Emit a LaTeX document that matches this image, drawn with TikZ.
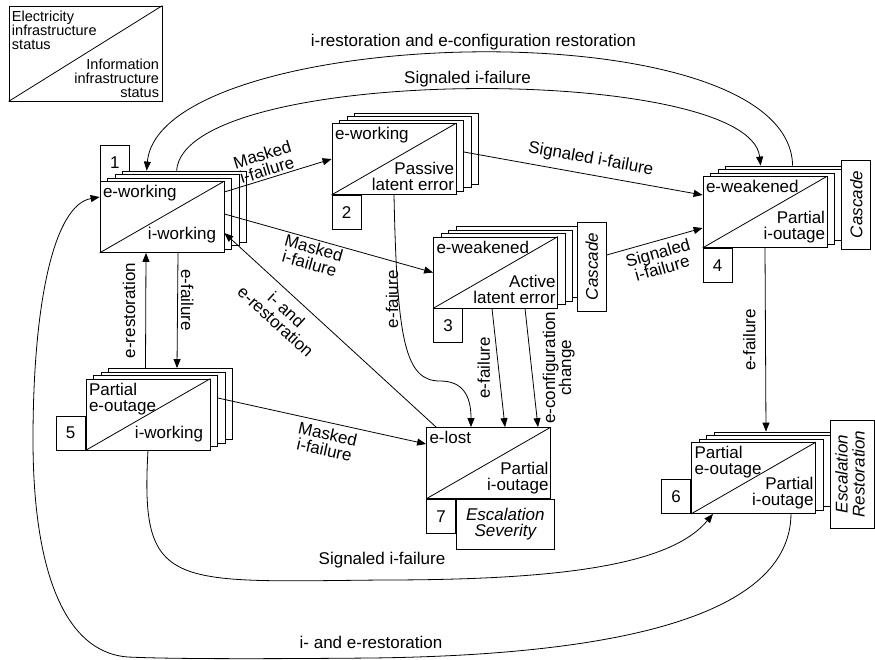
\documentclass[tikz,border=0pt]{standalone}
\usepackage{fontspec}
\setmainfont{Liberation Sans}
\usetikzlibrary{arrows.meta}

\newcommand{\boxfont}{\fontsize{17}{16}\selectfont}
\newcommand{\keyfont}{\fontsize{14.5}{14}\selectfont}

% one state: three copies behind, the front box and its diagonal
\newcommand{\statebox}[3]{%
  \foreach \j in {3,2,1}
    \node[state] (#1-\j) at ({#2+7.5*\j},{#3-3.5*\j}) {};
  \node[state] (#1) at (#2,#3) {};
  \draw (#1.south west) -- (#1.north east);
}

\begin{document}
\begin{tikzpicture}[x=1pt, y=-1pt, line width=0.8pt,
  state/.style={draw, fill=white, minimum width=124pt, minimum height=71pt, inner sep=0pt},
  numbox/.style={draw, fill=white, minimum width=29pt, minimum height=34pt, inner sep=0pt, font=\boxfont},
  sidebox/.style={draw, fill=white, inner sep=0pt, font=\boxfont\itshape, align=center},
  toptxt/.style={anchor=north west, align=left, inner xsep=3pt, inner ysep=4pt, font=\boxfont},
  bottxt/.style={anchor=south east, align=right, inner xsep=2pt, inner ysep=4pt, font=\boxfont},
  lbl/.style={font=\boxfont, inner sep=2pt, align=center},
  arr/.style={-{Triangle[length=9pt,width=7pt]}}]

\useasboundingbox (0,0) rectangle (875,659);

% key
\node[draw, minimum width=153pt, minimum height=95pt, inner sep=0pt] (key) at (85.5,53.5) {};
\draw (key.south west) -- (key.north east);
\node[anchor=north west, align=left, font=\keyfont, inner xsep=3pt, inner ysep=5pt] (keye) at (key.north west) {Electricity\\infrastructure\\status};
\node[anchor=south east, align=right, font=\keyfont, inner sep=3pt] (keyi) at (key.south east) {Information\\infrastructure\\status};

% states
\node[numbox, minimum height=36pt, anchor=south west] (n1) at (100,181.5) {1};
\statebox{s1}{162}{217}
\statebox{s2}{394}{159}
\statebox{s3}{495.5}{272.5}
\statebox{s4}{765}{212}
\statebox{s5}{148}{414.5}
\statebox{s6}{753.5}{478}
\node[state] (s7) at (488.5,463) {};
\draw (s7.south west) -- (s7.north east);

\node[numbox, anchor=north west] (n2) at (s2.south west) {2};
\node[numbox, anchor=north west] (n3) at (s3.south west) {3};
\node[numbox, anchor=north west] (n4) at (s4.south west) {4};
\node[numbox, anchor=south east] (n5) at (s5.south west) {5};
\node[numbox, anchor=south east] (n6) at (s6.south west) {6};
\node[numbox, anchor=north west] (n7) at (s7.south west) {7};

\node[sidebox, minimum width=29pt, minimum height=89pt, anchor=west] (c3) at ([xshift=19pt,yshift=6pt]s3.east) {\rotatebox{90}{Cascade}};
\node[sidebox, minimum width=29pt, minimum height=89pt, anchor=west] (c4) at ([xshift=14pt,yshift=7.5pt]s4.east) {\rotatebox{90}{Cascade}};
\node[sidebox, minimum width=44pt, minimum height=108pt, anchor=west] (r6) at ([xshift=14pt,yshift=4pt]s6.east) {\rotatebox{90}{\begin{tabular}{@{}c@{}}Escalation\\Restoration\end{tabular}}};
\node[sidebox, minimum width=98pt, minimum height=50pt, anchor=north west] (v7) at (n7.north east) {Escalation\\Severity};

% texts in the states
\node[toptxt] (s1e) at (s1.north west) {e-working};
\node[bottxt, inner xsep=8pt, inner ysep=9pt] (s1i) at (s1.south east) {i-working};
\node[toptxt] (s2e) at (s2.north west) {e-working};
\node[bottxt] (s2i) at (s2.south east) {Passive\\latent error};
\node[toptxt] (s3e) at (s3.north west) {e-weakened};
\node[bottxt] (s3i) at (s3.south east) {Active\\latent error};
\node[toptxt] (s4e) at (s4.north west) {e-weakened};
\node[bottxt] (s4i) at (s4.south east) {Partial\\i-outage};
\node[toptxt] (s5e) at (s5.north west) {Partial\\e-outage};
\node[bottxt, inner xsep=7pt, inner ysep=8pt] (s5i) at (s5.south east) {i-working};
\node[toptxt] (s6e) at (s6.north west) {Partial\\e-outage};
\node[bottxt] (s6i) at (s6.south east) {Partial\\i-outage};
\node[toptxt] (s7e) at (s7.north west) {e-lost};
\node[bottxt] (s7i) at (s7.south east) {Partial\\i-outage};

% transitions over the top
\draw[arr] ([xshift=67.5pt]s4-3.north west) .. controls +(-3,-161) and +(13,-146) .. ([xshift=24.5pt]s1-3.north west)
  node[lbl, pos=.5, above=1pt] {i-restoration and e-configuration restoration};
\draw[arr] ([xshift=54.5pt]s1-3.north west) .. controls +(8,-107) and +(-11,-102) .. ([xshift=35.5pt]s4-3.north west)
  node[lbl, pos=.5, above] {Signaled i-failure};

% transitions to the right
\draw[arr] ([yshift=25pt]s1.east) -- (s2.west) node[lbl, pos=.42, sloped, above] {Masked\\i-failure};
\draw[arr] ([yshift=3pt]s1.east) -- (s3.west) node[lbl, pos=.44, sloped, below] {Masked\\i-failure};
\draw[arr] ([yshift=3.5pt]s2-1.east) -- ([yshift=17pt]s4.west) node[lbl, pos=.52, sloped, above=5pt] {Signaled i-failure};
\draw[arr] ([yshift=11.5pt]c3.east) -- ([yshift=-16pt]s4.west) node[lbl, midway, sloped, below=3pt] {Signaled\\i-failure};
\draw[arr] ([yshift=13pt]s5-1.east) -- ([yshift=19pt]s7.west) node[lbl, pos=.54, sloped, below=3pt] {Masked\\i-failure};

% transitions up and down
\draw[arr] ([xshift=-25pt]s5-3.north) -- ([xshift=-16pt]s1.south) node[lbl, midway, rotate=90, anchor=south, inner ysep=10pt] {e-restoration};
\draw[arr] ([xshift=16pt]s1.south) -- ([xshift=6.5pt]s5-3.north) node[lbl, pos=.41, rotate=-90, anchor=south, inner ysep=3pt] {e-failure};
\draw[arr] ([xshift=10pt]s7.north west) -- ([yshift=-16pt]s1.east) node[lbl, pos=.66, sloped, below=6pt] {i- and\\e-restoration};
\draw[arr] (s2.south) .. controls +(3,145.5) and +(-35,0) .. (440,381) node[lbl, pos=.3, rotate=90, anchor=south, inner ysep=0pt] {e-faiure}
  .. controls +(22,0) and +(0,-32.5) .. ([xshift=-17.5pt]s7.north);
\draw[arr] ([xshift=-3.5pt]s3.south) -- ([xshift=16.5pt]s7.north) node[lbl, midway, rotate=90, anchor=south, inner ysep=8pt] {e-failure};
\draw[arr] ([xshift=29.5pt]s3.south) -- ([xshift=49.5pt]s7.north) node[lbl, midway, rotate=90, anchor=north, inner ysep=11pt] {e-configuration\\change};
\draw[arr] (s4.south) -- ([xshift=-10pt]s6-3.north) node[lbl, midway, rotate=90, anchor=south, inner ysep=9.5pt] {e-failure};

% transitions round the bottom
\draw[arr] (s5.south) .. controls +(-8,140) and +(-212,2) .. (382,580) node[lbl, pos=1, above=10pt] {Signaled i-failure}
  .. controls +(178,0) and +(-43,51.5) .. ([xshift=-40.5pt]s6.south);
\draw[arr] ([xshift=37.5pt]s6.south) .. controls +(-1,101.5) and +(249,-3) .. (371,658) node[lbl, pos=1, above=7pt] {i- and e-restoration}
  .. controls +(-111,1) and +(42,2) .. (128,657)
  .. controls +(-68,-5) and +(0,120) .. (33,440)
  .. controls +(0,-140) and +(-45,8) .. ([yshift=20pt]s1.west);

\end{tikzpicture}
\end{document}
